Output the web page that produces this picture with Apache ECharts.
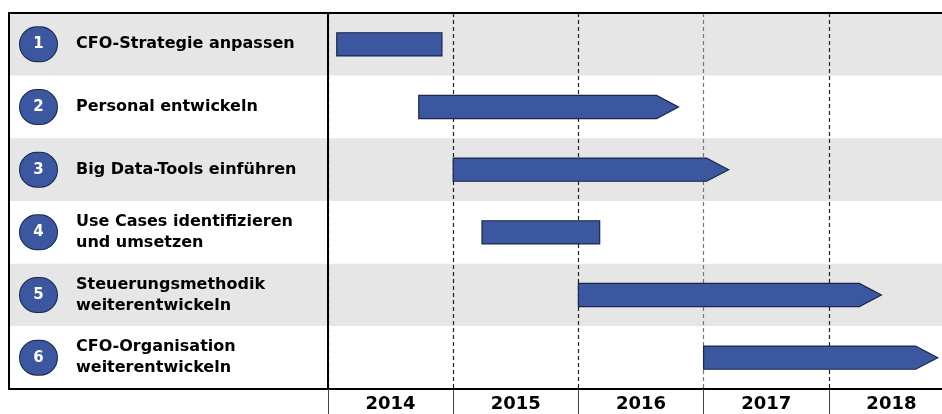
<!DOCTYPE html>
<html>
<head>
<meta charset="utf-8">
<script src="https://cdn.jsdelivr.net/npm/echarts@6/dist/echarts.min.js"></script>
<style>
  html, body { margin: 0; padding: 0; background: #ffffff; }
  #chart { width: 942px; height: 414px; }
</style>
</head>
<body>
<div id="chart"></div>
<script>
// ---- data ----
const tasks = [
  'CFO-Strategie anpassen',
  'Personal entwickeln',
  'Big Data-Tools einführen',
  'Use Cases identifizieren\nund umsetzen',
  'Steuerungsmethodik\nweiterentwickeln',
  'CFO-Organisation\nweiterentwickeln'
];
const taskNumbers = ['1', '2', '3', '4', '5', '6'];
const years = ['2014', '2015', '2016', '2017', '2018'];
const startYear = [2014.07, 2014.725, 2015.0, 2015.23, 2016.0, 2017.0];
const endYear = [2014.91, 2016.80, 2017.20, 2016.17, 2018.42, 2018.87];
const hasArrow = [0, 1, 1, 0, 1, 1];

// ---- styles ----
const FONT = 'DejaVu Sans';
const BLUE = '#3b57a0';
const NAVY = '#1b2748';
const ROW_COLORS = ['#e6e6e6', '#ffffff'];
const TOP = 13, BOTTOM = 25;

const barData = tasks.map((t, i) => [startYear[i], endYear[i], i, hasArrow[i]]);

const chart = echarts.init(document.getElementById('chart'), null, { renderer: 'canvas' });

const lineBlack = { show: true, lineStyle: { color: '#000000', width: 2 } };

chart.setOption({
  animation: false,
  backgroundColor: '#ffffff',
  grid: [
    { left: 9, top: TOP, width: 319, bottom: BOTTOM, outerBoundsMode: 'none' },
    { left: 328, top: TOP, right: -12, bottom: BOTTOM, outerBoundsMode: 'none' }
  ],
  xAxis: [
    { type: 'value', gridIndex: 0, position: 'top', min: 0, max: 1,
      axisLine: lineBlack, axisTick: { show: false }, axisLabel: { show: false }, splitLine: { show: false } },
    { type: 'value', gridIndex: 0, position: 'bottom', min: 0, max: 1,
      axisLine: lineBlack, axisTick: { show: false }, axisLabel: { show: false }, splitLine: { show: false } },
    { type: 'value', gridIndex: 1, position: 'top', min: 2014, max: 2019, interval: 1,
      axisLine: lineBlack, axisTick: { show: false }, axisLabel: { show: false },
      splitLine: { show: true, lineStyle: { color: ['#222', '#222', '#222', '#777', '#222', '#222'], width: 1.2, type: [4, 3] } } },
    { type: 'category', gridIndex: 1, position: 'bottom', data: years, boundaryGap: true,
      axisLine: lineBlack,
      axisTick: { show: true, length: 25, alignWithLabel: false, lineStyle: { color: '#444', width: 1 } },
      axisLabel: { show: true, interval: 0, margin: 6, color: '#000', fontFamily: FONT, fontWeight: 'bold', fontSize: 18 },
      splitLine: { show: false } }
  ],
  yAxis: [
    { type: 'category', gridIndex: 0, data: tasks, inverse: true, position: 'left',
      axisLine: lineBlack, axisTick: { show: false },
      axisLabel: { show: true, inside: true, interval: 0, margin: 67, color: '#000',
        fontFamily: FONT, fontWeight: 'bold', fontSize: 16, lineHeight: 21 },
      splitLine: { show: false },
      splitArea: { show: true, areaStyle: { color: ROW_COLORS } } },
    { type: 'category', gridIndex: 0, data: taskNumbers, inverse: true, position: 'left',
      axisLine: { show: false }, axisTick: { show: false },
      axisLabel: { show: true, inside: true, interval: 0, margin: 11,
        formatter: v => '{c|' + v + '}',
        rich: { c: { width: 37, height: 34, align: 'center', verticalAlign: 'middle', lineHeight: 34,
          backgroundColor: BLUE, borderColor: NAVY, borderWidth: 1, borderRadius: 18,
          color: '#ffffff', fontFamily: FONT, fontWeight: 'bold', fontSize: 15 } } },
      splitLine: { show: false } },
    { type: 'category', gridIndex: 1, data: tasks, inverse: true, position: 'left',
      axisLine: lineBlack, axisTick: { show: false }, axisLabel: { show: false },
      splitLine: { show: false },
      splitArea: { show: true, areaStyle: { color: ROW_COLORS } } }
  ],
  series: [{
    type: 'custom',
    xAxisIndex: 2,
    yAxisIndex: 2,
    encode: { x: [0, 1], y: 2 },
    data: barData,
    z: 5,
    renderItem: function (params, api) {
      const s = api.coord([api.value(0), api.value(2)]);
      const e = api.coord([api.value(1), api.value(2)]);
      const h = api.size([0, 1])[1] * 0.37;
      const y0 = s[1] - h / 2, y1 = s[1] + h / 2;
      const style = { fill: BLUE, stroke: NAVY, lineWidth: 1.2 };
      if (api.value(3)) {
        const head = 22;
        const xb = e[0] - head;
        return { type: 'polygon', shape: { points: [[s[0], y0], [xb, y0], [e[0], s[1]], [xb, y1], [s[0], y1]] }, style: style };
      }
      return { type: 'rect', shape: { x: s[0], y: y0, width: e[0] - s[0], height: h }, style: style };
    }
  }]
});
</script>
</body>
</html>
